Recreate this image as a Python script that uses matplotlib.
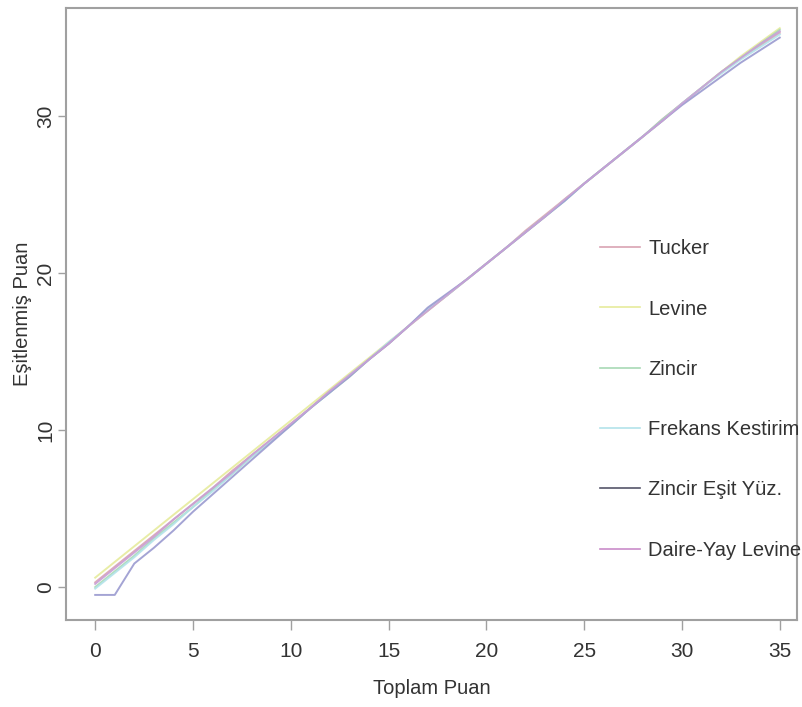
import matplotlib.pyplot as plt

plt.rcParams['font.family'] = ['Liberation Sans', 'DejaVu Sans']

# toplam puan (x) and equated scores for each method
toplam_puan = list(range(36))

tucker = [0.3, 1.3, 2.3, 3.3, 4.3, 5.3, 6.3, 7.4, 8.4, 9.4, 10.4, 11.4, 12.5, 13.5,
          14.5, 15.5, 16.6, 17.6, 18.6, 19.6, 20.6, 21.6, 22.7, 23.7, 24.7, 25.7,
          26.7, 27.7, 28.7, 29.8, 30.8, 31.8, 32.8, 33.7, 34.5, 35.3]
levine = [0.6, 1.6, 2.6, 3.6, 4.6, 5.6, 6.6, 7.6, 8.6, 9.6, 10.6, 11.6, 12.6, 13.6,
          14.6, 15.6, 16.6, 17.6, 18.6, 19.6, 20.6, 21.6, 22.6, 23.6, 24.7, 25.7,
          26.7, 27.7, 28.7, 29.7, 30.8, 31.8, 32.8, 33.8, 34.7, 35.6]
zincir = [0.0, 1.0, 2.0, 3.1, 4.1, 5.1, 6.2, 7.2, 8.3, 9.3, 10.3, 11.4, 12.4, 13.4,
          14.5, 15.5, 16.6, 17.7, 18.6, 19.6, 20.6, 21.6, 22.6, 23.6, 24.6, 25.7,
          26.7, 27.7, 28.7, 29.8, 30.8, 31.8, 32.8, 33.7, 34.6, 35.5]
frekans_kestirim = [-0.1, 0.9, 1.9, 3.0, 4.0, 5.1, 6.1, 7.2, 8.3, 9.3, 10.3, 11.4, 12.4,
                    13.5, 14.5, 15.6, 16.6, 17.7, 18.6, 19.6, 20.6, 21.6, 22.6, 23.6,
                    24.6, 25.7, 26.7, 27.7, 28.7, 29.7, 30.8, 31.8, 32.7, 33.6, 34.4, 35.2]
zincir_esit_yuz = [-0.5, -0.5, 1.5, 2.5, 3.6, 4.8, 5.9, 7.0, 8.1, 9.2, 10.3, 11.4, 12.4,
                   13.4, 14.5, 15.5, 16.6, 17.8, 18.7, 19.6, 20.6, 21.6, 22.6, 23.6,
                   24.6, 25.7, 26.7, 27.7, 28.7, 29.7, 30.7, 31.6, 32.5, 33.4, 34.2, 35.0]
daire_yay_levine = [0.2, 1.2, 2.2, 3.2, 4.3, 5.3, 6.3, 7.3, 8.4, 9.4, 10.4, 11.4, 12.5,
                    13.5, 14.5, 15.5, 16.6, 17.6, 18.6, 19.6, 20.6, 21.6, 22.6, 23.6,
                    24.7, 25.7, 26.7, 27.7, 28.7, 29.7, 30.8, 31.8, 32.8, 33.7, 34.6, 35.4]

series = [
    ("Tucker", tucker, "#d9a3b3"),
    ("Levine", levine, "#e6eb9c"),
    ("Zincir", zincir, "#a8d9b5"),
    ("Frekans Kestirim", frekans_kestirim, "#b3e3ea"),
    ("Zincir Eşit Yüz.", zincir_esit_yuz, "#9a9ad0"),
    ("Daire-Yay Levine", daire_yay_levine, "#c9a0d6"),
]
legend_colors = ["#d9a3b3", "#e6eb9c", "#a8d9b5", "#b3e3ea", "#55556a", "#c98cc9"]

fig = plt.figure(figsize=(8.03, 7.07), dpi=100)
ax = fig.add_axes([0.082, 0.123, 0.911, 0.866])

for (name, vals, col), lcol in zip(series, legend_colors):
    ax.plot(toplam_puan, vals, color=col, lw=1.4, alpha=0.9)
    ax.plot([], [], color=lcol, lw=1.2, label=name)

ax.set_xlim(-1.5, 35.9)
ax.set_ylim(-2.1, 36.9)
ax.set_xticks([0, 5, 10, 15, 20, 25, 30, 35])
ax.set_yticks([0, 10, 20, 30])

for s in ax.spines.values():
    s.set_color('#a0a0a0')
    s.set_linewidth(1.5)
ax.tick_params(colors='#a0a0a0', labelcolor='#333333', labelsize=15, width=1)
ax.tick_params(axis='x', length=7, pad=8.5)
ax.tick_params(axis='y', length=6, pad=1.5)
for lab in ax.get_yticklabels():
    lab.set_rotation(90)
    lab.set_verticalalignment('center')

ax.set_xlabel("Toplam Puan", fontsize=14.5, color='#333333')
ax.set_ylabel("Eşitlenmiş Puan", fontsize=14.5, color='#333333')
ax.xaxis.set_label_coords(0.5, -0.096)
ax.yaxis.set_label_coords(-0.046, 0.5)

ax.legend(loc='center left', bbox_to_anchor=(0.747, 0.435), bbox_transform=fig.transFigure,
          frameon=False, fontsize=14.5, labelspacing=2.05, handlelength=2.0,
          handletextpad=0.4, borderpad=0, borderaxespad=0, labelcolor='#333333')

fig.savefig("out.png", dpi=100)
